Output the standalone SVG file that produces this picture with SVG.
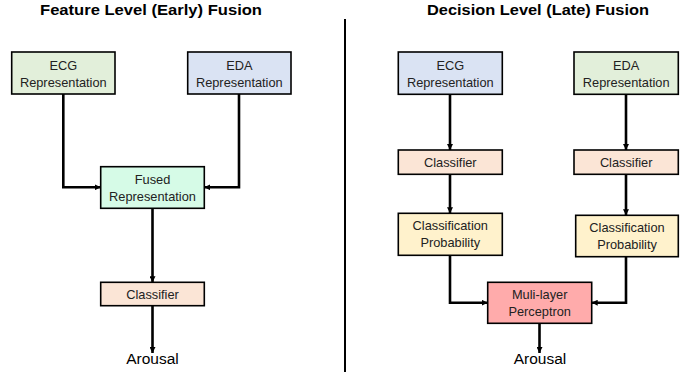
<svg xmlns="http://www.w3.org/2000/svg" width="699" height="372" viewBox="0 0 699 372">
<defs>
<marker id="ah" viewBox="0 0 6 6" refX="6" refY="3" markerWidth="6" markerHeight="6" markerUnits="userSpaceOnUse" orient="auto">
<path d="M0,0 L6,3 L0,6 z" fill="#000"/>
</marker>
<style>
.box{stroke:#000;stroke-width:1.6}
.t{font-family:"Liberation Sans",Arial,sans-serif;font-size:12.8px;fill:#222;text-anchor:middle}
.title{font-family:"Liberation Sans",Arial,sans-serif;font-size:15px;font-weight:bold;fill:#000;text-anchor:middle}
.out{font-family:"Liberation Sans",Arial,sans-serif;font-size:15.5px;fill:#000;text-anchor:middle}
.c{fill:none;stroke:#000;stroke-width:2.6;marker-end:url(#ah)}
.green{fill:#e2efda}.blue{fill:#dae3f3}.mint{fill:#d6fbe7}.peach{fill:#fbe5d6}.yellow{fill:#fff2cc}.red{fill:#ffabab}
</style>
</defs>
<rect width="699" height="372" fill="#fff"/>
<text class="title" x="151" y="15" textLength="222" lengthAdjust="spacingAndGlyphs">Feature Level (Early) Fusion</text>
<text class="title" x="538" y="15" textLength="222" lengthAdjust="spacingAndGlyphs">Decision Level (Late) Fusion</text>
<line x1="345" y1="19" x2="345" y2="372" stroke="#000" stroke-width="2"/>
<g id="connectors">
<path class="c" d="M63.3,94 V187.3 H100.7"/>
<path class="c" d="M239,94 V187.3 H204.3"/>
<path class="c" d="M152.5,208.3 V282.3"/>
<path class="c" d="M152.5,305.7 V353"/>
<path class="c" d="M450,94.3 V150"/>
<path class="c" d="M626,94.3 V150"/>
<path class="c" d="M450,174.3 V213.3"/>
<path class="c" d="M626,174.3 V215.3"/>
<path class="c" d="M450,255.3 V302.7 H487.7"/>
<path class="c" d="M626,256.7 V302.7 H591.7"/>
<path class="c" d="M539.5,323.3 V353"/>
</g>
<g id="l-ecg"><rect class="box green" x="11.7" y="52" width="103.3" height="42"/><text class="t" x="63.3" y="70">ECG</text><text class="t" x="63.3" y="86.5">Representation</text></g>
<g id="l-eda"><rect class="box blue" x="187.7" y="52" width="103.3" height="42"/><text class="t" x="239.3" y="70">EDA</text><text class="t" x="239.3" y="86.5">Representation</text></g>
<g id="l-fused"><rect class="box mint" x="100.7" y="166.7" width="103.6" height="41.6"/><text class="t" x="152.5" y="184">Fused</text><text class="t" x="152.5" y="201">Representation</text></g>
<g id="l-classifier"><rect class="box peach" x="100.7" y="282.3" width="103.6" height="23.4"/><text class="t" x="152.5" y="298.5">Classifier</text></g>
<g id="l-arousal"><text class="out" x="152.5" y="363.5">Arousal</text></g>
<g id="r-ecg"><rect class="box blue" x="398.3" y="52" width="104" height="42.3"/><text class="t" x="450.3" y="70">ECG</text><text class="t" x="450.3" y="86.5">Representation</text></g>
<g id="r-eda"><rect class="box green" x="574" y="52" width="104.3" height="42.3"/><text class="t" x="626.2" y="70">EDA</text><text class="t" x="626.2" y="86.5">Representation</text></g>
<g id="r-classifier1"><rect class="box peach" x="398.3" y="150" width="104" height="24.3"/><text class="t" x="450.3" y="166.7">Classifier</text></g>
<g id="r-classifier2"><rect class="box peach" x="574" y="150" width="104.3" height="24.3"/><text class="t" x="626.2" y="166.7">Classifier</text></g>
<g id="r-prob1"><rect class="box yellow" x="398.3" y="213.3" width="104" height="42"/><text class="t" x="450.3" y="230">Classification</text><text class="t" x="450.3" y="247">Probability</text></g>
<g id="r-prob2"><rect class="box yellow" x="575.7" y="215.3" width="102.6" height="41.4"/><text class="t" x="627" y="232">Classification</text><text class="t" x="627" y="249">Probability</text></g>
<g id="r-mlp"><rect class="box red" x="487.7" y="282.3" width="104" height="41"/><text class="t" x="539.7" y="299">Muli-layer</text><text class="t" x="539.7" y="315.7">Perceptron</text></g>
<g id="r-arousal"><text class="out" x="540" y="363.5">Arousal</text></g>
</svg>
